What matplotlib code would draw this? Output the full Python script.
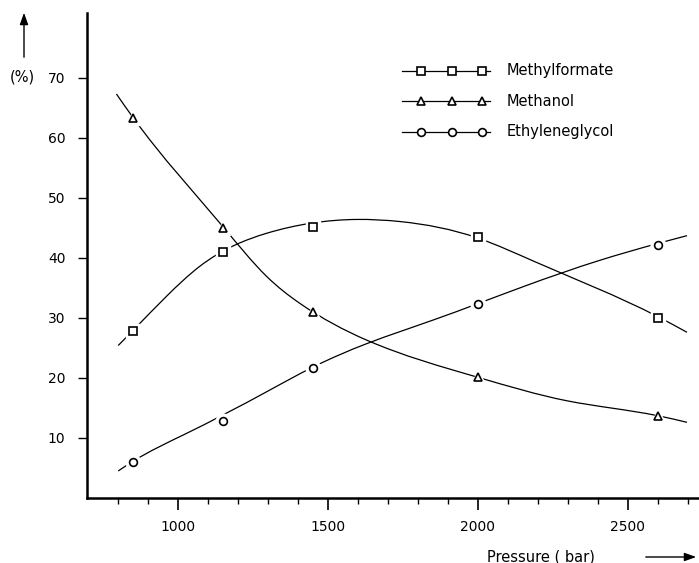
import numpy as np
import matplotlib
matplotlib.use("Agg")
import matplotlib.pyplot as plt
from matplotlib.path import Path
from matplotlib.patches import PathPatch, FancyArrowPatch
from matplotlib.lines import Line2D

# --- data ---
pressure = [850, 1150, 1450, 2000, 2600]
methylformate = [27.8, 41.0, 45.1, 43.4, 30.0]
methanol = [63.3, 45.0, 31.0, 20.1, 13.6]
ethyleneglycol = [6.0, 12.8, 21.7, 32.3, 42.2]

# the hand drawn curves (they do not hit every marker)
mf_curve_x = [801, 850, 962, 1073, 1296, 1596, 1740, 2000, 2188, 2600, 2697]
mf_curve_y = [25.4, 27.9, 33.6, 38.6, 44.1, 46.4, 46.05, 43.3, 39.4, 30.2, 27.6]
me_curve_x = [795, 850, 1150, 1296, 1407, 1629, 2000, 2296, 2600, 2697]
me_curve_y = [67.3, 63.4, 45.2, 36.9, 32.4, 26.3, 20.1, 16.2, 13.7, 12.6]
eg_curve_x = [801, 850, 1018, 1296, 1450, 1629, 1854, 2151, 2407, 2600, 2697]
eg_curve_y = [4.5, 6.1, 10.5, 17.7, 21.8, 25.7, 29.7, 35.2, 39.6, 42.4, 43.7]

labels = ["Methylformate", "Methanol", "Ethyleneglycol"]
markers = ["s", "^", "o"]

plt.rcParams["font.family"] = ["DejaVu Sans"]


def spline_path(xs, ys):
    # natural cubic spline, each piece handed to matplotlib as a bezier segment
    x = np.asarray(xs, float)
    y = np.asarray(ys, float)
    n = len(x)
    h = np.diff(x)
    A = np.zeros((n, n))
    b = np.zeros(n)
    A[0, 0] = A[-1, -1] = 1
    for i in range(1, n - 1):
        A[i, i - 1] = h[i - 1]
        A[i, i] = 2 * (h[i - 1] + h[i])
        A[i, i + 1] = h[i]
        b[i] = 6 * ((y[i + 1] - y[i]) / h[i] - (y[i] - y[i - 1]) / h[i - 1])
    M = np.linalg.solve(A, b)
    verts = [(x[0], y[0])]
    codes = [Path.MOVETO]
    for i in range(n - 1):
        d0 = (y[i + 1] - y[i]) / h[i] - h[i] * (2 * M[i] + M[i + 1]) / 6
        d1 = (y[i + 1] - y[i]) / h[i] + h[i] * (M[i] + 2 * M[i + 1]) / 6
        verts += [(x[i] + h[i] / 3, y[i] + d0 * h[i] / 3),
                  (x[i + 1] - h[i] / 3, y[i + 1] - d1 * h[i] / 3),
                  (x[i + 1], y[i + 1])]
        codes += [Path.CURVE4] * 3
    return Path(verts, codes)


fig = plt.figure(figsize=(6.99, 5.63), dpi=100)
ax = fig.add_axes([0.1245, 0.1155, 0.8755, 0.8615])
ax.set_xlim(697, 2737)
ax.set_ylim(0, 80.8)

for cx, cy in [(mf_curve_x, mf_curve_y), (me_curve_x, me_curve_y), (eg_curve_x, eg_curve_y)]:
    ax.add_patch(PathPatch(spline_path(cx, cy), fill=False, lw=0.9, color="black", zorder=2))

for vals, m in zip([methylformate, methanol, ethyleneglycol], markers):
    ms = 5.6 if m != "^" else 5.2
    # white halo so the line stops short of the marker
    ax.plot(pressure, vals, ls="none", marker=m, ms=ms + 5, mfc="white", mec="white", zorder=3)
    ax.plot(pressure, vals, ls="none", marker=m, ms=ms, mfc="white", mec="black", mew=1.2, zorder=4)

# legend drawn by hand: line runs past the outer markers like in the original
for k, (m, lab) in enumerate(zip(markers, labels)):
    yy = 1 - (70.7 + 30.5 * k) / 563
    ms = 5.6 if m != "^" else 5.2
    fig.add_artist(Line2D([402 / 699, 490 / 699], [yy, yy], color="black", lw=0.9))
    fig.add_artist(Line2D([421 / 699, 452 / 699, 482 / 699], [yy] * 3, ls="none", marker=m, ms=ms,
                          mfc="white", mec="black", mew=1.2))
    fig.text(507 / 699, yy, lab, fontsize=10.5, va="center", ha="left")

for s in ["top", "right"]:
    ax.spines[s].set_visible(False)
ax.spines["left"].set_linewidth(1.8)
ax.spines["bottom"].set_linewidth(1.8)

ax.set_xticks([1000, 1500, 2000, 2500])
ax.set_xticks(np.arange(800, 2701, 100), minor=True)
ax.set_yticks([10, 20, 30, 40, 50, 60, 70])
ax.tick_params(axis="x", which="major", direction="out", length=8.5, width=1.2, labelsize=10, pad=7)
ax.tick_params(axis="x", which="minor", direction="out", length=4.5, width=1.0)
ax.tick_params(axis="y", which="major", direction="out", length=6.5, width=1.0, labelsize=10, pad=9)

# axis captions with the little arrows
fig.text(10 / 699, 1 - 77 / 563, "(%)", fontsize=10.5, va="center", ha="left")
fig.add_artist(FancyArrowPatch((24 / 699, 1 - 60 / 563), (24 / 699, 1 - 10 / 563),
               transform=fig.transFigure, arrowstyle="-|>,head_length=7,head_width=2.5",
               lw=1.0, color="black", mutation_scale=1))
fig.text(487 / 699, 1 - 557 / 563, "Pressure ( bar)", fontsize=10.5, va="center", ha="left")
fig.add_artist(FancyArrowPatch((643 / 699, 1 - 557 / 563), (699 / 699, 1 - 557 / 563),
               transform=fig.transFigure, arrowstyle="-|>,head_length=7,head_width=2.5",
               lw=1.0, color="black", mutation_scale=1))

fig.savefig("out.png", dpi=100)
